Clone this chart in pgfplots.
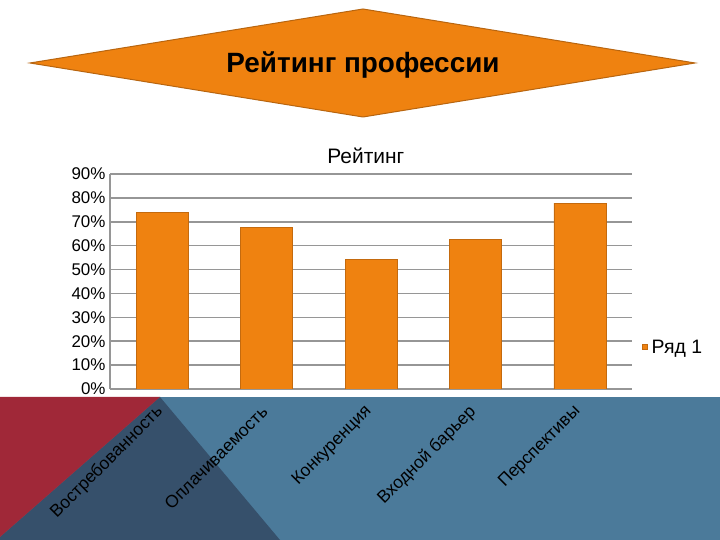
\documentclass[border=0pt]{standalone}
\usepackage{pgfplots}
\pgfplotsset{compat=1.18}
\usepackage{fontspec}
\setmainfont{Liberation Sans}
\definecolor{barorange}{HTML}{EF8210}
\definecolor{baredge}{HTML}{C46A0E}
\definecolor{diamondedge}{HTML}{B8650F}
\definecolor{bandblue}{HTML}{4B7A9A}
\definecolor{darkblue}{HTML}{36506B}
\definecolor{bandred}{HTML}{A02838}
\definecolor{gridgray}{HTML}{969696}
\begin{document}
\begin{tikzpicture}[x=1bp,y=1bp]
\useasboundingbox (0,0) rectangle (720,540);
\fill[white] (0,0) rectangle (720,540);
\fill[bandblue] (0,0) rectangle (720,143);
\fill[darkblue] (160,143) -- (280,0) -- (0,0) -- (0,3) -- cycle;
\fill[bandred] (0,143) -- (160,143) -- (0,3) -- cycle;
\draw[fill=barorange, draw=diamondedge, line width=1bp] (30,477) -- (363,531) -- (695,477) -- (363,423) -- cycle;
\node[font=\fontsize{28}{32}\selectfont\bfseries] at (363,475) {Рейтинг профессии};
\begin{axis}[
  at={(110bp,151bp)}, anchor=south west,
  width=522bp, height=215bp, scale only axis,
  xmin=-0.5, xmax=4.5, ymin=0, ymax=90,
  ytick={0,10,...,90},
  yticklabel={\pgfmathprintnumber{\tick}\%},
  /pgf/number format/assume math mode=true,
  xtick={0,1,2,3,4},
  xticklabels={Востребованность,Оплачиваемость,Конкуренция,Входной барьер,Перспективы},
  x tick label style={xshift=-2bp, yshift=-20bp, rotate=45, anchor=east, inner sep=0pt, font=\fontsize{17.5}{20}\selectfont},
  y tick label style={font=\fontsize{17}{20}\selectfont, xshift=-1bp},
  major tick length=0pt,
  axis x line*=bottom, axis y line*=left,
  axis line style={gridgray, line width=1.2bp},
  ymajorgrids, grid style={gridgray, line width=1.5bp},
  title={Рейтинг},
  title style={font=\fontsize{21}{24}\selectfont, at={(0.49,1)}, anchor=south, yshift=1bp},
  legend style={at={(1.019,0.195)}, anchor=west, draw=none, fill=none, font=\fontsize{19.5}{22}\selectfont, inner sep=0pt,
    /tikz/every odd column/.append style={column sep=2bp}},
  legend image code/.code={\fill[barorange, draw=baredge] (0bp,-2.5bp) rectangle (5bp,2.5bp);},
]
\addplot[ybar, bar width=52bp, fill=barorange, draw=baredge, line width=0.6bp]
  coordinates {(0,73.8) (1,67.6) (2,54.1) (3,62.7) (4,77.8)};
\addlegendentry{Ряд 1}
\end{axis}
\end{tikzpicture}
\end{document}
